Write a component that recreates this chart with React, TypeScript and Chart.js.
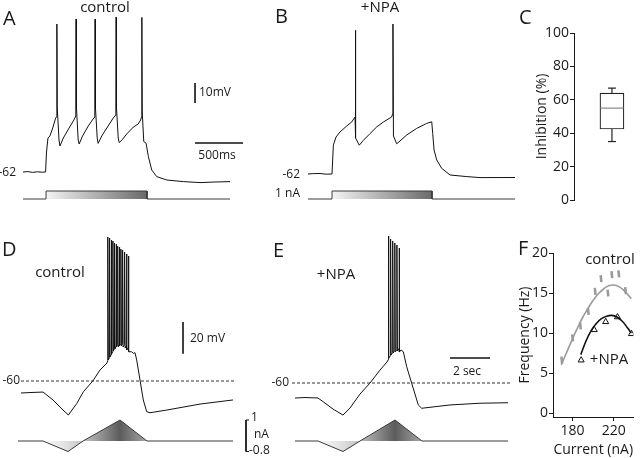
import React, { useEffect, useRef } from "react";
import { Chart, registerables } from "chart.js";
Chart.register(...registerables);

const FONT = "'Open Sans', 'Noto Sans', 'DejaVu Sans', sans-serif";
Chart.defaults.font.family = FONT;
Chart.defaults.color = "#1a1a1a";

// ---------------- Panel A: control, step current (time ms, Vm mV, current nA)
const A_TIME_MS = [0,50,100,150,200,235,245,260,280,310,340,350,353,357,375,385,420,480,530,550,553,557,575,585,620,680,730,748,751,755,773,783,820,880,940,967,970,974,992,1002,1040,1080,1120,1150,1200,1225,1235,1238,1242,1258,1282,1306,1341,1393,1497,1670,1844,2000,2157];
const A_VM = [-62,-61.8,-62.2,-61.9,-62.1,-62,-52,-45,-44,-40,-35,-34.5,12,-30,-46,-49,-45,-40,-36,-34,14.5,-30,-46,-48,-44,-39,-35.5,-34.5,14.5,-30,-45,-47.7,-44,-39.5,-35,-33.5,15.5,-30,-45,-47.3,-45.5,-43,-41,-39.5,-38,-36,-34.3,15.3,-32,-46.8,-47.6,-54.3,-61,-64.3,-66,-66.8,-67.3,-67,-66.8];
const A_STIM_MS = [0,240,240,1292,1292,2157];
const A_STIM_NA = [0,0,1,1,0,0];

// ---------------- Panel B: +NPA, step current
const B_TIME_MS = [0,60,125,190,250,264,292,333,403,455,490,493,498,534,576,646,715,785,871,882,885,890,924,1028,1132,1236,1289,1299,1313,1341,1393,1480,1654,1792,2157];
const B_VM = [-62,-61.8,-61.75,-62.1,-62,-47.6,-43.5,-41,-38,-36,-33.5,9.85,-44,-47.6,-45.2,-41.8,-38.5,-36,-33.5,-31.9,13,-43,-46.9,-42.5,-39.2,-36.7,-35.9,-41.7,-50,-55,-59.2,-62.5,-63.3,-63.8,-63.75];
const B_STIM_MS = [0,250,250,1292,1292,2157];
const B_STIM_NA = [0,0,1,1,0,0];

// scale bars of A/B
const SB_MV = 10;
const SB_MS = 500;

// ---------------- Panel C: inhibition box plot (%)
const C_TICKS_STEP = 20;
const C_MIN = 35;
const C_Q1 = 42.5;
const C_MEDIAN = 55;
const C_Q3 = 64;
const C_MAX = 67;

// ---------------- Panel D: control, ramp current (time s, Vm mV)
const D_PRE_S = [0,0.45,1.1,1.6,2.1,2.37,2.79,3.12,3.59,3.95,4.2,4.3];
const D_PRE_VM = [-67.6,-67.3,-67,-72,-78.4,-81.5,-74.2,-66.8,-60,-53,-49.9,-48.6];
const D_SPIKE_S = [4.335,4.425,4.51,4.59,4.67,4.75,4.83,4.91,4.99,5.075,5.175,5.27,5.365];
const D_SPIKE_PEAK = [31.1,30.5,29.2,28.6,27.3,26.7,25.4,24.8,23.5,22.9,21.6,20.4,19.1];
const D_SPIKE_TROUGH = [-46.7,-44.8,-42.9,-41,-39.7,-38.5,-38.5,-37.8,-37.8,-38.5,-39.1,-40.4,-41.5];
const D_POST_S = [5.535,5.615,5.7,5.785,5.95,6.115,6.285,6.45,7.285,8.95,10.6];
const D_POST_VM = [-41.5,-42.5,-42.1,-46.7,-59.4,-72,-79.4,-80.1,-78.4,-74.6,-72];
const D_STIM_S = [-0.15,1.1,2.35,3.1,4.95,6.3,10.6];
const D_STIM_NA = [0,0,-0.5,0,1,0,0];

// ---------------- Panel E: +NPA, ramp current
const E_PRE_S = [0,0.5,1.15,1.5,1.9,2.4,2.75,3.25,3.75,4.25,4.6];
const E_PRE_VM = [-69.5,-69.2,-69.5,-72.7,-76.5,-80.3,-75.8,-67,-60,-51.8,-46.7];
const E_SPIKE_S = [4.665,4.775,4.88,4.985,5.09,5.2];
const E_SPIKE_PEAK = [33.0,31.1,29.9,28.6,27.3,25.4];
const E_SPIKE_TROUGH = [-44.2,-42.3,-41,-40.4,-39.7,-40.4];
const E_POST_S = [5.3,5.415,5.585,5.835,6.165,6.335,7.75,9.25,10.65];
const E_POST_VM = [-39.1,-40.2,-49.7,-60.2,-73.9,-76,-73.9,-72.8,-72.5];
const E_STIM_S = [0,1.15,2.4,3.25,5.0,6.35,10.65];
const E_STIM_NA = [0,0,-0.5,0,1,0,0];

const REF_MV = -60;
const SB2_MV = 20;
const SB2_S = 2;
const RAMP_MAX_NA = 1;
const RAMP_MIN_NA = -0.5;

// ---------------- Panel F: frequency vs current
const F_CTRL_NA = [169.5,180,187.6,195.2,201.9,207.6,214.3,218.1,224.8,231.4];
const F_CTRL_HZ = [6.6,9.4,10.9,12.7,15.2,16.8,15.0,17.3,17.4,15.3];
const F_CTRL_FIT_NA = [169,175,180,185,190,195,200,205,210,215,220,225,230,237];
const F_CTRL_FIT_HZ = [6.0,7.8,9.3,10.7,12.0,13.1,14.1,14.9,15.5,15.9,16.0,15.8,15.3,14.3];
const F_NPA_NA = [188.3,201,212.1,223.5,237.1];
const F_NPA_HZ = [6.6,10.4,11.4,12.0,9.9];
const F_NPA_FIT_NA = [188,193,198,203,208,213,218,223,228,233,237];
const F_NPA_FIT_HZ = [7.3,9.0,10.3,11.2,11.8,12.1,12.2,12.0,11.5,10.7,10.0];
const F_X_TICKS = [180, 220];
const F_Y_TICKS = [0, 5, 10, 15, 20];

// ---------------- helpers
type Pt = { x: number; y: number };
const pts = (xs: number[], ys: number[]): Pt[] => xs.map((x, i) => ({ x, y: ys[i] }));

function withBurst(preT: number[], preV: number[], sT: number[], pk: number[], tr: number[], postT: number[], postV: number[]) {
  const out = pts(preT, preV);
  sT.forEach((t, i) => {
    const base = i === 0 ? preV[preV.length - 1] : tr[i - 1];
    out.push({ x: t, y: base + 1.5 });
    out.push({ x: t + 0.005, y: pk[i] });
    out.push({ x: t + 0.03, y: tr[i] });
  });
  return out.concat(pts(postT, postV));
}

type Label = { t: string; x: number; y: number; s?: number; a?: CanvasTextAlign };

const annotPlugin = {
  id: "annot",
  afterDatasetsDraw(chart: any, _a: any, opts: any) {
    const ctx = chart.ctx;
    ctx.save();
    (opts.items || []).forEach((it: Label) => {
      ctx.font = `${it.s || 12}px ${FONT}`;
      ctx.fillStyle = "#1a1a1a";
      ctx.textAlign = it.a || "left";
      ctx.textBaseline = "middle";
      ctx.fillText(it.t, it.x - (opts.left || 0), it.y - (opts.top || 0));
    });
    ctx.restore();
  },
};

const C_POS = 6.5;
const boxPlugin = {
  id: "boxw",
  afterDatasetsDraw(chart: any) {
    const { ctx } = chart;
    const xs = chart.scales.x;
    const ys = chart.scales.y;
    const cx = xs.getPixelForValue(C_POS);
    const seg = (x1: number, y1: number, x2: number, y2: number) => {
      ctx.beginPath();
      ctx.moveTo(x1, y1);
      ctx.lineTo(x2, y2);
      ctx.stroke();
    };
    ctx.save();
    ctx.strokeStyle = "#222";
    ctx.lineWidth = 1.2;
    seg(cx, ys.getPixelForValue(C_Q3), cx, ys.getPixelForValue(C_MAX));
    seg(cx - 4, ys.getPixelForValue(C_MAX), cx + 4, ys.getPixelForValue(C_MAX));
    seg(cx, ys.getPixelForValue(C_Q1), cx, ys.getPixelForValue(C_MIN));
    seg(cx - 4, ys.getPixelForValue(C_MIN), cx + 4, ys.getPixelForValue(C_MIN));
    ctx.strokeStyle = "#8a8a8a";
    seg(cx - 11.5, ys.getPixelForValue(C_MEDIAN), cx + 11.5, ys.getPixelForValue(C_MEDIAN));
    ctx.restore();
  },
};

const xRange = (px: number, val: number, ppu: number, left: number, width: number) => ({
  min: val + (left - px) / ppu,
  max: val + (left + width - px) / ppu,
});
const yRange = (py: number, val: number, ppu: number, top: number, height: number) => ({
  min: val - (top + height - py) / ppu,
  max: val + (py - top) / ppu,
});

const grad = (t0: number, t1: number, stops: [number, string][]) => (c: any) => {
  const chart = c.chart;
  if (!chart.chartArea) return "rgba(0,0,0,0)";
  const xs = chart.scales.x;
  const g = chart.ctx.createLinearGradient(xs.getPixelForValue(t0), 0, xs.getPixelForValue(t1), 0);
  stops.forEach(([p, col]) => g.addColorStop(p, col));
  return g;
};

const ln = (data: Pt[], extra: any = {}) => ({
  type: "line",
  data,
  borderColor: "#111",
  borderWidth: 1,
  pointRadius: 0,
  fill: false,
  tension: 0,
  yAxisID: "y",
  ...extra,
});

type Box = { left: number; top: number; width: number; height: number };

function traceConfig(b: Box, x: number[], y: number[], y2: number[], datasets: any[], labels: Label[]) {
  return {
    type: "line",
    data: { datasets },
    options: {
      responsive: false,
      animation: false,
      events: [],
      layout: { padding: 0 },
      plugins: {
        legend: { display: false },
        tooltip: { enabled: false },
        annot: { items: labels, left: b.left, top: b.top },
      },
      scales: {
        x: { type: "linear", display: false, bounds: "data", ...xRange(x[0], x[1], x[2], b.left, b.width) },
        y: { type: "linear", display: false, bounds: "data", ...yRange(y[0], y[1], y[2], b.top, b.height) },
        y2: { type: "linear", display: false, bounds: "data", ...yRange(y2[0], y2[1], y2[2], b.top, b.height) },
      },
    },
    plugins: [annotPlugin],
  };
}

const BOX_A: Box = { left: 0, top: 0, width: 260, height: 210 };
const BOX_B: Box = { left: 260, top: 0, width: 255, height: 210 };
const BOX_C: Box = { left: 515, top: 0, width: 125, height: 215 };
const BOX_D: Box = { left: 0, top: 225, width: 270, height: 233 };
const BOX_E: Box = { left: 262, top: 225, width: 252, height: 233 };
const BOX_F: Box = { left: 514, top: 235, width: 126, height: 223 };

const stepStops: [number, string][] = [[0, "#f4f4f4"], [1, "#6a6a6a"]];
const rampStops: [number, string][] = [[0, "#fbfbfb"], [0.24, "#dedede"], [0.385, "#c4c4c4"], [0.74, "#5c5c5c"], [1, "#a6a6a6"]];

function makeA() {
  const sbT = 1792;
  const sbV = -17.5;
  return traceConfig(BOX_A, [23, 0, 0.096], [172, -62, 2], [199, 0, 8], [
    ln(pts(A_STIM_MS, A_STIM_NA), { yAxisID: "y2", borderColor: "#3a3a3a", fill: "origin", backgroundColor: grad(240, 1292, stepStops) }),
    ln(pts(A_TIME_MS, A_VM)),
    ln([{ x: sbT, y: sbV }, { x: sbT, y: sbV - SB_MV }], { borderWidth: 1.6 }),
    ln([{ x: sbT, y: -47.5 }, { x: sbT + SB_MS, y: -47.5 }], { borderWidth: 1.6 }),
  ], [
    { t: "A", x: 3, y: 19, s: 20 },
    { t: "control", x: 105, y: 8, s: 15, a: "center" },
    { t: "10mV", x: 199, y: 93, s: 12 },
    { t: "500ms", x: 217, y: 156, s: 12, a: "center" },
    { t: "-62", x: 16, y: 173, s: 12, a: "right" },
  ]);
}

function makeB() {
  return traceConfig(BOX_B, [308, 0, 0.096], [174, -62, 2], [199, 0, 8], [
    ln(pts(B_STIM_MS, B_STIM_NA), { yAxisID: "y2", borderColor: "#3a3a3a", fill: "origin", backgroundColor: grad(250, 1292, stepStops) }),
    ln(pts(B_TIME_MS, B_VM)),
  ], [
    { t: "B", x: 275, y: 17, s: 20 },
    { t: "+NPA", x: 380, y: 8, s: 15, a: "center" },
    { t: "-62", x: 300, y: 175, s: 12, a: "right" },
    { t: "1 nA", x: 300, y: 194, s: 12, a: "right" },
  ]);
}

function makeD() {
  const sbT = 8.1;
  const brT = 11.25;
  return traceConfig(BOX_D, [21, 0, 20], [381, -60, 1.58], [441, 0, 21], [
    ln(pts(D_STIM_S, D_STIM_NA), { yAxisID: "y2", borderColor: "#3a3a3a", fill: "origin", backgroundColor: grad(1.1, 6.3, rampStops) }),
    ln([{ x: 0, y: REF_MV }, { x: 10.7, y: REF_MV }], { borderDash: [3, 2], borderColor: "#333" }),
    ln(withBurst(D_PRE_S, D_PRE_VM, D_SPIKE_S, D_SPIKE_PEAK, D_SPIKE_TROUGH, D_POST_S, D_POST_VM)),
    ln([{ x: sbT, y: -22.7 }, { x: sbT, y: -22.7 - SB2_MV }], { borderWidth: 1.6 }),
    ln([{ x: brT + 0.15, y: RAMP_MAX_NA }, { x: brT, y: RAMP_MAX_NA }, { x: brT, y: RAMP_MIN_NA }, { x: brT + 0.15, y: RAMP_MIN_NA }], { yAxisID: "y2", borderWidth: 1 }),
  ], [
    { t: "D", x: 2, y: 250, s: 20 },
    { t: "control", x: 60, y: 273, s: 15, a: "center" },
    { t: "20 mV", x: 190, y: 339, s: 12 },
    { t: "-60", x: 20, y: 381, s: 12, a: "right" },
    { t: "1", x: 251, y: 418, s: 12 },
    { t: "nA", x: 254, y: 435, s: 12 },
    { t: "-0.8", x: 249, y: 451, s: 12 },
  ]);
}

function makeE() {
  return traceConfig(BOX_E, [295, 0, 20], [383, -60, 1.58], [441, 0, 21], [
    ln(pts(E_STIM_S, E_STIM_NA), { yAxisID: "y2", borderColor: "#3a3a3a", fill: "origin", backgroundColor: grad(1.15, 6.35, rampStops) }),
    ln([{ x: -0.15, y: REF_MV }, { x: 10.75, y: REF_MV }], { borderDash: [3, 2], borderColor: "#333" }),
    ln(withBurst(E_PRE_S, E_PRE_VM, E_SPIKE_S, E_SPIKE_PEAK, E_SPIKE_TROUGH, E_POST_S, E_POST_VM)),
    ln([{ x: 7.75, y: -44.2 }, { x: 7.75 + SB2_S, y: -44.2 }], { borderWidth: 1.6 }),
  ], [
    { t: "E", x: 273, y: 251, s: 20 },
    { t: "+NPA", x: 336, y: 275, s: 15, a: "center" },
    { t: "-60", x: 289, y: 383, s: 12, a: "right" },
    { t: "2 sec", x: 467, y: 372, s: 12, a: "center" },
  ]);
}

const axisFont = { size: 14, family: FONT };
const axisGrid = { display: true, drawOnChartArea: false, drawTicks: true, tickLength: 4, color: "#1a1a1a", lineWidth: 1 };
const axisBorder = { display: true, color: "#1a1a1a", width: 1 };

function makeC() {
  return {
    type: "bar",
    data: {
      datasets: [{
        data: [{ x: C_POS, y: [C_Q1, C_Q3] }],
        backgroundColor: "#ffffff",
        borderColor: "#222",
        borderWidth: 1.2,
        borderSkipped: false,
        barThickness: 24,
      }],
    },
    options: {
      responsive: false,
      animation: false,
      events: [],
      layout: { padding: { top: 33, bottom: 15, left: 0, right: 0 } },
      plugins: {
        legend: { display: false },
        tooltip: { enabled: false },
        annot: { items: [{ t: "C", x: 519, y: 18, s: 20 }], left: BOX_C.left, top: BOX_C.top },
      },
      scales: {
        x: { type: "linear", min: 0, max: 10, display: false, bounds: "data" },
        y: {
          type: "linear",
          min: 0,
          max: 100,
          bounds: "data",
          afterFit: (s: any) => { s.width = 59; },
          ticks: { stepSize: C_TICKS_STEP, font: axisFont, color: "#1a1a1a", padding: 1 },
          grid: axisGrid,
          border: axisBorder,
          title: { display: true, text: "Inhibition (%)", font: axisFont, color: "#1a1a1a", padding: { top: 19, bottom: 0 } },
        },
      },
    },
    plugins: [boxPlugin, annotPlugin],
  };
}

function makeF() {
  return {
    type: "line",
    data: {
      datasets: [
        { data: pts(F_CTRL_FIT_NA, F_CTRL_FIT_HZ), borderColor: "#9b9b9b", borderWidth: 1.6, pointRadius: 0, tension: 0.4, fill: false },
        { data: pts(F_NPA_FIT_NA, F_NPA_FIT_HZ), borderColor: "#111", borderWidth: 1.6, pointRadius: 0, tension: 0.4, fill: false },
        { data: pts(F_CTRL_NA, F_CTRL_HZ), showLine: false, pointStyle: "line", pointRotation: 84, pointRadius: 3.5, pointBorderWidth: 2.6, pointBorderColor: "#9b9b9b", borderColor: "#9b9b9b" },
        { data: pts(F_NPA_NA, F_NPA_HZ), showLine: false, pointStyle: "triangle", pointRadius: 3.5, pointBackgroundColor: "#fff", pointBorderColor: "#111", pointBorderWidth: 1, borderColor: "#111" },
      ],
    },
    options: {
      responsive: false,
      animation: false,
      events: [],
      layout: { padding: { top: 18, right: 5, left: 0, bottom: 0 } },
      plugins: {
        legend: { display: false },
        tooltip: { enabled: false },
        annot: {
          items: [
            { t: "F", x: 518, y: 249, s: 20 },
            { t: "control", x: 610, y: 260, s: 15, a: "center" },
            { t: "+NPA", x: 609, y: 360, s: 15, a: "center" },
          ],
          left: BOX_F.left,
          top: BOX_F.top,
        },
      },
      scales: {
        x: {
          type: "linear",
          min: 161,
          max: 239,
          bounds: "data",
          afterBuildTicks: (s: any) => { s.ticks = F_X_TICKS.map((v) => ({ value: v })); },
          afterFit: (s: any) => { s.height = 41; },
          ticks: { font: axisFont, color: "#1a1a1a", padding: 2 },
          grid: axisGrid,
          border: axisBorder,
          title: { display: true, text: "Current (nA)", font: axisFont, color: "#1a1a1a", padding: { top: 0, bottom: 0 } },
        },
        y: {
          type: "linear",
          min: -0.5,
          max: 20,
          bounds: "data",
          afterBuildTicks: (s: any) => { s.ticks = F_Y_TICKS.map((v) => ({ value: v })); },
          afterFit: (s: any) => { s.width = 39; },
          ticks: { font: axisFont, color: "#1a1a1a", padding: 1 },
          grid: axisGrid,
          border: axisBorder,
          title: { display: true, text: "Frequency (Hz)", font: axisFont, color: "#1a1a1a", padding: { top: 3, bottom: 0 } },
        },
      },
    },
    plugins: [annotPlugin],
  };
}

function ChartBox({ box, make }: { box: Box; make: () => any }) {
  const ref = useRef<HTMLCanvasElement | null>(null);
  useEffect(() => {
    if (!ref.current) return;
    const chart = new Chart(ref.current, make());
    return () => chart.destroy();
  }, []);
  return (
    <canvas
      ref={ref}
      width={box.width}
      height={box.height}
      style={{ position: "absolute", left: box.left, top: box.top, width: box.width, height: box.height, display: "block" }}
    />
  );
}

export default function App() {
  return (
    <div style={{ position: "fixed", left: 0, top: 0, width: 640, height: 458, background: "#fff", overflow: "hidden" }}>
      <ChartBox box={BOX_A} make={makeA} />
      <ChartBox box={BOX_B} make={makeB} />
      <ChartBox box={BOX_C} make={makeC} />
      <ChartBox box={BOX_D} make={makeD} />
      <ChartBox box={BOX_E} make={makeE} />
      <ChartBox box={BOX_F} make={makeF} />
    </div>
  );
}
